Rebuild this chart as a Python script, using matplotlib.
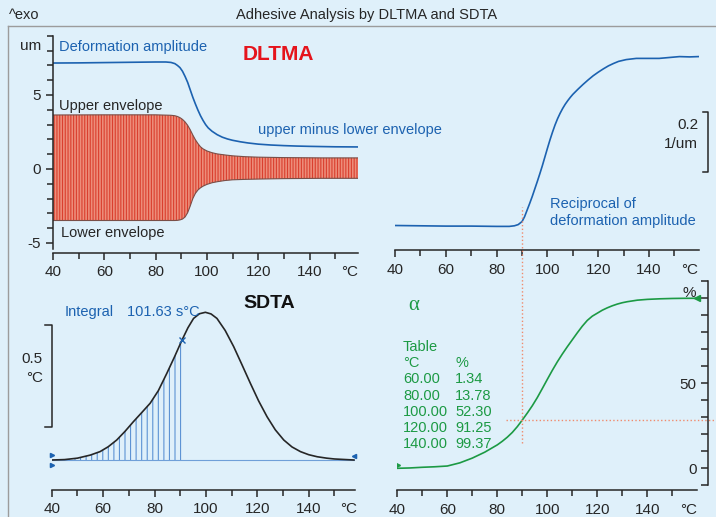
import matplotlib
matplotlib.use("Agg")
import matplotlib.pyplot as plt
from matplotlib.lines import Line2D
from matplotlib.ticker import MultipleLocator

# DLTMA: deformation amplitude and the two envelopes (um)
dltma_temp = [40, 50, 60, 70, 80, 84, 86, 87.5, 88.5, 89.5, 90.5, 91.5, 92.5, 93.5, 94.5, 95.5,
              96.5, 97.5, 98.5, 99.5, 100.5, 102, 104, 106, 108, 110, 113, 116, 120, 125, 130,
              135, 140, 150, 159]
amplitude = [7.16, 7.17, 7.19, 7.21, 7.23, 7.23, 7.2, 7.12, 7.0, 6.85, 6.6, 6.25, 5.85, 5.35,
             4.85, 4.4, 3.98, 3.6, 3.28, 3.0, 2.78, 2.55, 2.32, 2.15, 2.03, 1.94, 1.84, 1.76,
             1.68, 1.62, 1.58, 1.55, 1.53, 1.5, 1.49]

env_temp = [40, 60, 80, 86, 87.5, 88.5, 89.5, 90.5, 91.5, 92.5, 93.5, 94.5, 95.5, 96.5, 97.5,
            98.5, 100, 102, 104, 107, 110, 115, 120, 130, 145, 159]
upper_env = [3.65, 3.66, 3.66, 3.63, 3.6, 3.55, 3.47, 3.35, 3.18, 2.95, 2.65, 2.3, 1.98, 1.72,
             1.5, 1.36, 1.22, 1.1, 1.02, 0.95, 0.89, 0.83, 0.8, 0.77, 0.75, 0.75]
lower_env = [-3.48, -3.48, -3.48, -3.48, -3.48, -3.47, -3.44, -3.38, -3.24, -2.95, -2.5, -2.0,
             -1.65, -1.42, -1.27, -1.16, -1.04, -0.93, -0.86, -0.78, -0.73, -0.7, -0.68,
             -0.65, -0.63, -0.63]

# reciprocal of deformation amplitude (1/um)
recip_temp = [40, 50, 60, 70, 80, 85, 87, 88.5, 90, 91, 92, 93, 94, 95, 96, 97, 98, 99, 100,
              101, 102, 103, 104, 105, 106, 107, 108, 109, 110, 112, 114, 116, 118, 120, 122,
              124, 126, 128, 131, 135, 140, 144, 148, 152, 156, 159.4]
recip = [0.139, 0.138, 0.137, 0.137, 0.136, 0.136, 0.138, 0.142, 0.152, 0.168, 0.19, 0.212,
         0.235, 0.26, 0.285, 0.311, 0.338, 0.367, 0.396, 0.424, 0.45, 0.474, 0.495, 0.513,
         0.529, 0.543, 0.555, 0.566, 0.576, 0.593, 0.609, 0.624, 0.638, 0.65, 0.661, 0.671,
         0.679, 0.686, 0.692, 0.696, 0.696, 0.696, 0.699, 0.702, 0.701, 0.702]

# SDTA signal (°C)
sdta_temp = [40, 45, 50, 55, 58.8, 62, 65.3, 68.5, 71.8, 75, 78.3, 81.5, 84.8, 87.8, 90.7, 93,
             95.2, 97.5, 99.8, 102, 104.3, 107.5, 110.8, 114, 117.3, 120.5, 123.8, 127, 130.3,
             133.5, 136.8, 140, 143.3, 147, 150, 157.6]
sdta = [0, 0.002, 0.009, 0.024, 0.041, 0.065, 0.098, 0.14, 0.188, 0.232, 0.278, 0.34, 0.425,
        0.506, 0.588, 0.648, 0.694, 0.717, 0.724, 0.716, 0.694, 0.635, 0.556, 0.468, 0.376,
        0.29, 0.212, 0.148, 0.098, 0.064, 0.041, 0.026, 0.016, 0.009, 0.005, 0]
integral_end = 90.7
integral_value = "101.63 s°C"

# conversion alpha (%)
alpha_temp = [40, 45, 50, 55, 60, 65, 70, 75, 80, 82, 84, 86, 88, 90, 92, 94, 96, 98, 100, 102,
              104, 106, 108, 110, 112, 114, 116, 118, 120, 122, 124, 126, 128, 130, 132, 136,
              140, 145, 150, 155, 159.8]
alpha = [0, 0.2, 0.6, 0.9, 1.34, 3.2, 6.0, 9.5, 13.78, 15.9, 18.3, 21.1, 24.5, 28.4, 32.5,
         36.8, 41.6, 46.9, 52.3, 57.6, 62.6, 67.2, 71.5, 75.6, 79.7, 83.6, 87.0, 89.5, 91.25,
         93.0, 94.4, 95.6, 96.6, 97.4, 98.0, 98.9, 99.37, 99.7, 99.9, 100, 100]

table_temp = ["60.00", "80.00", "100.00", "120.00", "140.00"]
table_alpha = ["1.34", "13.78", "52.30", "91.25", "99.37"]

cursor_temp = 90
cursor_alpha = 28.4

x_ticks = [40, 60, 80, 100, 120, 140]

W, H = 716, 517
BG = "#dff0fa"
INK = "#262626"
BLUE = "#1c62b0"
GREEN = "#1c9a44"
RED = "#e5141c"

plt.rcParams["font.family"] = ["Liberation Sans", "DejaVu Sans"]
plt.rcParams["hatch.linewidth"] = 0.8

fig = plt.figure(figsize=(W / 100, H / 100), dpi=100, facecolor=BG)


def panel(ox, sx, oy, sy, xlim, ylim):
    """Axes placed so that x=xlim[0] sits at pixel ox and y=0 at pixel oy."""
    x1 = ox + (xlim[1] - xlim[0]) * sx
    y_top = oy - ylim[1] * sy
    y_bot = oy - ylim[0] * sy
    ax = fig.add_axes([ox / W, 1 - y_bot / H, (x1 - ox) / W, (y_bot - y_top) / H])
    ax.set_xlim(*xlim)
    ax.set_ylim(*ylim)
    ax.patch.set_visible(False)
    for s in ("top", "right", "left"):
        ax.spines[s].set_visible(False)
    ax.spines["bottom"].set_color(INK)
    ax.spines["bottom"].set_linewidth(1.1)
    ax.set_yticks([])
    return ax


def temp_axis(ax, unit_at):
    ax.set_xticks(x_ticks + [unit_at], [str(t) for t in x_ticks] + ["°C"])
    ax.xaxis.get_major_ticks()[-1].tick1line.set_visible(False)
    ax.xaxis.set_minor_locator(MultipleLocator(10))
    ax.tick_params(axis="x", which="both", direction="out", color=INK, labelcolor=INK,
                   labelsize=11, pad=4, width=1.1)
    ax.tick_params(axis="x", which="major", length=5)
    ax.tick_params(axis="x", which="minor", length=4)


def ftext(x, y, s, **kw):
    kw.setdefault("va", "center")
    kw.setdefault("fontsize", 10.5)
    fig.text(x / W, 1 - y / H, s, **kw)


# frame and header
fig.add_artist(Line2D([8 / W, 1], [1 - 26 / H] * 2, color="#9c9c9c", lw=1))
fig.add_artist(Line2D([8 / W] * 2, [0, 1 - 26 / H], color="#9c9c9c", lw=1))
ftext(9, 15, "^exo", color=INK)
ftext(367, 15, "Adhesive Analysis by DLTMA and SDTA", ha="center", color=INK)

# ---- top left: DLTMA ----
ax1 = panel(53, 2.565, 169, 14.8, (40, 159), (-5.65, 9.1))
temp_axis(ax1, 155.5)
ax1.spines["left"].set_visible(True)
ax1.spines["left"].set_color(INK)
ax1.spines["left"].set_linewidth(1.1)
ax1.spines["left"].set_bounds(-5.4, 9)
ax1.set_yticks([-5, 0, 5, 8.4], ["-5", "0", "5", "um"])
ax1.yaxis.get_major_ticks()[-1].tick1line.set_visible(False)
ax1.yaxis.set_minor_locator(MultipleLocator(1))
ax1.tick_params(axis="y", which="both", direction="out", color=INK, labelcolor=INK,
                labelsize=11, width=1.1)
ax1.tick_params(axis="y", which="major", length=5)
ax1.tick_params(axis="y", which="minor", length=4)
ax1.fill_between(env_temp, upper_env, lower_env, facecolor="#ed8d7a", edgecolor="#da3f2e",
                 hatch="||||||", lw=0)
ax1.plot(env_temp, upper_env, color="#7a4f48", lw=0.8)
ax1.plot(env_temp, lower_env, color="#7a4f48", lw=0.8)
ax1.plot(dltma_temp, amplitude, color=BLUE, lw=1.2)

ftext(59, 47, "Deformation amplitude", color=BLUE)
ftext(243, 54, "DLTMA", color=RED, fontsize=15, fontweight="bold")
ftext(59, 106, "Upper envelope", color=INK)
ftext(61, 233, "Lower envelope", color=INK)
ftext(258, 130, "upper minus lower envelope", color=BLUE)

# ---- top right: reciprocal ----
ax2 = panel(395, 2.54, 267.2, 300, (40, 159.5), (0.057, 0.774))
temp_axis(ax2, 156.1)
ax2.plot(recip_temp, recip, color=BLUE, lw=1.2)
ax2.plot([161.1, 163.1, 163.1, 161.1], [0.518, 0.518, 0.318, 0.318], color=INK, lw=1.1,
         clip_on=False)
ftext(698, 125, "0.2", ha="right", color=INK, fontsize=11)
ftext(698, 144, "1/um", ha="right", color=INK, fontsize=11)
ftext(550, 204, "Reciprocal of", color=BLUE)
ftext(550, 221, "deformation amplitude", color=BLUE)

# ---- bottom left: SDTA ----
ax3 = panel(51.7, 2.57, 460, 204, (40, 158), (-0.147, 0.833))
temp_axis(ax3, 155.4)
n_int = sdta_temp.index(integral_end) + 1
ax3.fill_between(sdta_temp[:n_int], 0, sdta[:n_int], facecolor="none", edgecolor="#5d93d4",
                 hatch="|||", lw=0)
ax3.plot([sdta_temp[0], sdta_temp[-1]], [0, 0], color="#6f9fd8", lw=0.8)
ax3.plot(sdta_temp, sdta, color=INK, lw=1.2)
ax3.plot([integral_end], [sdta[n_int - 1]], marker="x", color=BLUE, ms=5, mew=1)
ax3.plot([sdta_temp[0]] * 2, [0.025, -0.025], ">", color=BLUE, ms=3, clip_on=False)
ax3.plot([sdta_temp[-1]], [0.02], "<", color=BLUE, ms=3, clip_on=False)
ax3.plot([37.5, 40.2, 40.2, 37.5], [0.66, 0.66, 0.16, 0.16], color=INK, lw=1.1, clip_on=False)
ftext(43, 359, "0.5", ha="right", color=INK, fontsize=11)
ftext(43, 378, "°C", ha="right", color=INK, fontsize=11)
ftext(65, 312, "Integral", color=BLUE)
ftext(127, 312, integral_value, color=BLUE)
ftext(243, 303, "SDTA", color="#111111", fontsize=14, fontweight="bold")

# ---- bottom right: alpha ----
ax4 = panel(397.3, 2.5, 468.3, 1.7, (40, 159.8), (-12.8, 112))
temp_axis(ax4, 156.4)
ax4.spines["left"].set_visible(True)
ax4.spines["left"].set_position(("data", 164.4))
ax4.spines["left"].set_color(INK)
ax4.spines["left"].set_linewidth(1.1)
ax4.spines["left"].set_bounds(-10, 110)
ax4.set_yticks([0, 50, 104], ["0", "50", "%"])
ax4.yaxis.get_major_ticks()[-1].tick1line.set_visible(False)
ax4.yaxis.set_minor_locator(MultipleLocator(10))
ax4.tick_params(axis="y", which="both", direction="out", color=INK, labelcolor=INK,
                labelsize=11, width=1.1, length=5)
ax4.plot(alpha_temp, alpha, color=GREEN, lw=1.2)
ax4.plot([alpha_temp[0]], [alpha[0] + 2], ">", color=GREEN, ms=4)
ax4.plot([alpha_temp[-1]], [alpha[-1]], "<", color=GREEN, ms=4, clip_on=False)

# cursor at 90 °C running through both right panels
ax4.plot([cursor_temp, cursor_temp], [14.7, 153.7], color="#f08a6c", lw=1, ls=":",
         clip_on=False)
ax4.plot([83.4, 167.3], [cursor_alpha, cursor_alpha], color="#f08a6c", lw=1, ls=":",
         clip_on=False)

ftext(408, 305, "α", color=GREEN, fontsize=15, family="Liberation Serif")
ftext(403, 347, "Table", color=GREEN)
ftext(403, 363, "°C", color=GREEN)
ftext(455, 363, "%", color=GREEN)
for i, (t, a) in enumerate(zip(table_temp, table_alpha)):
    y = 379.3 + i * 16.25
    ftext(403, y, t, color=GREEN)
    ftext(455, y, a, color=GREEN)

fig.savefig("out.png", dpi=100, facecolor=BG)
